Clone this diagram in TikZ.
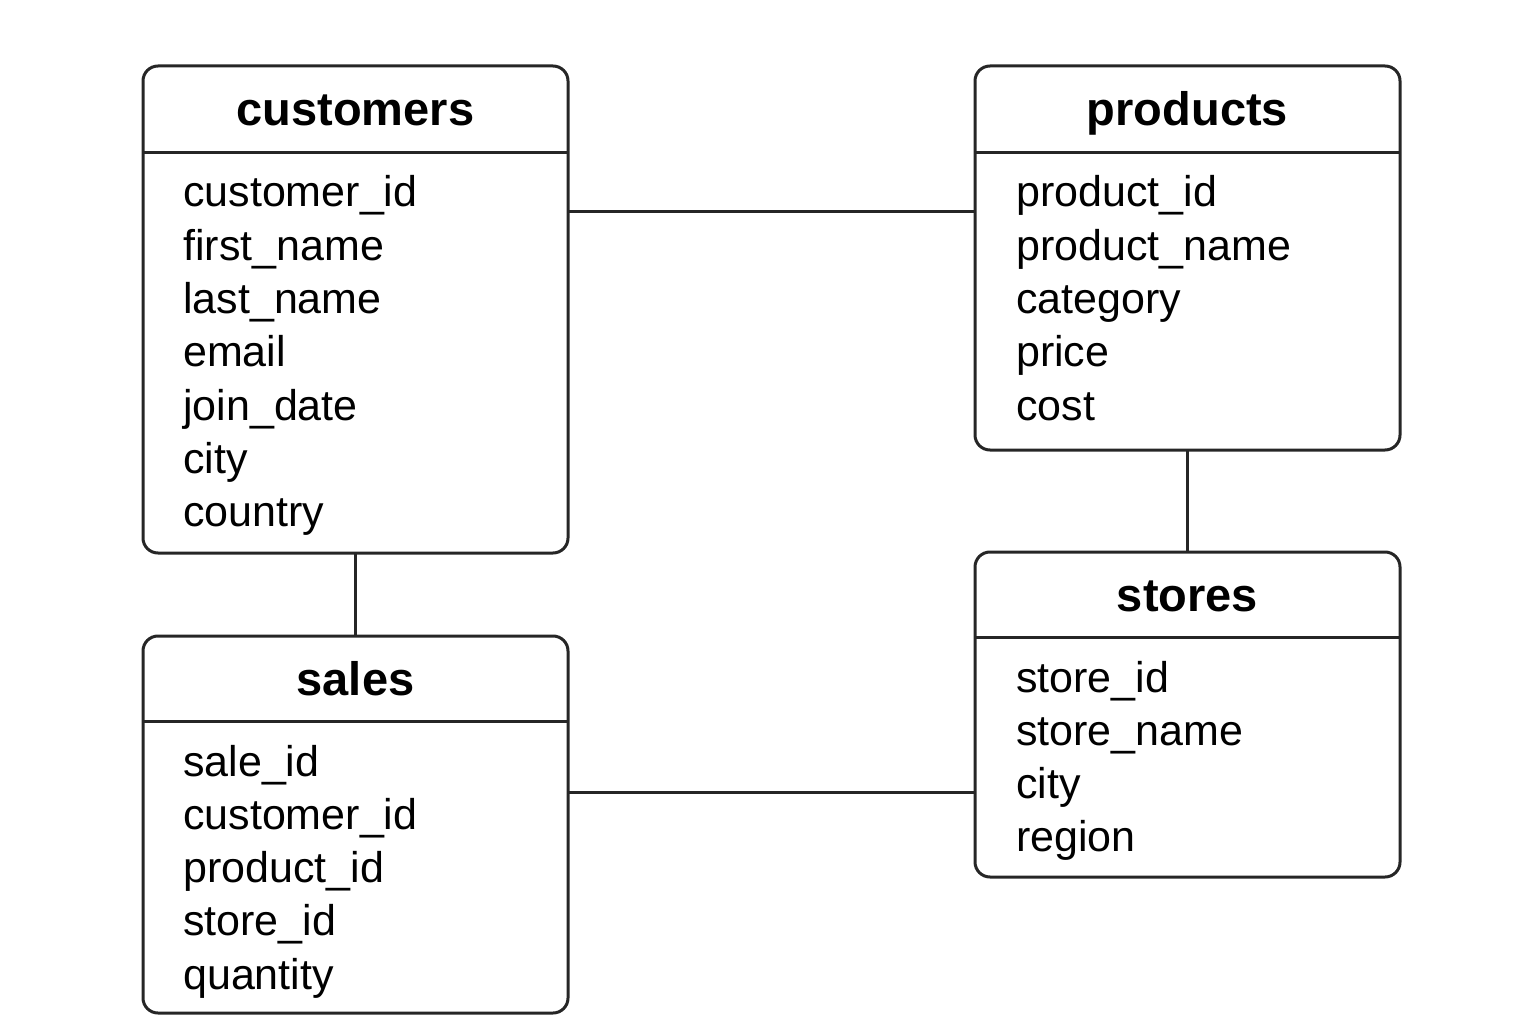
\documentclass[tikz,border=0pt]{standalone}
\usepackage{fontspec}
\setmainfont{Liberation Sans}
\begin{document}
\begin{tikzpicture}[x=1pt,y=-1pt,
  tbl/.style={draw=black!85,line width=3pt,rounded corners=15pt,outer sep=0pt,inner sep=0pt,fill=none},
  div/.style={draw=black!85,line width=3pt},
  conn/.style={draw=black!85,line width=3pt},
  ttl/.style={anchor=base,font=\fontsize{47}{47}\selectfont\bfseries,inner sep=0pt},
  fld/.style={anchor=base west,font=\fontsize{43}{43}\selectfont,inner sep=0pt}]
\useasboundingbox (0,0) rectangle (1536,1024);
% customers
\node[tbl,minimum width=425pt,minimum height=487pt] (cust) at (355.5,309.5) {};
\draw[div] (cust.west |- 0,153) -- (cust.east |- 0,153);
\node[ttl] (custT) at (355.5,126) {customers};
\foreach \t [count=\i from 0] in {customer\_id,first\_name,last\_name,email,join\_date,city,country}
  \node[fld] (cust\i) at (183,207+53.3*\i) {\t};
% products
\node[tbl,minimum width=425pt,minimum height=384pt] (prod) at (1187.5,258) {};
\draw[div] (prod.west |- 0,153) -- (prod.east |- 0,153);
\node[ttl] (prodT) at (1187.5,126) {products};
\foreach \t [count=\i from 0] in {product\_id,product\_name,category,price,cost}
  \node[fld] (prod\i) at (1016,207+53.3*\i) {\t};
% stores
\node[tbl,minimum width=425pt,minimum height=325pt] (stor) at (1187.5,714.5) {};
\draw[div] (stor.west |- 0,637) -- (stor.east |- 0,637);
\node[ttl] (storT) at (1187.5,611) {stores};
\foreach \t [count=\i from 0] in {store\_id,store\_name,city,region}
  \node[fld] (stor\i) at (1016,692+53.3*\i) {\t};
% sales
\node[tbl,minimum width=425pt,minimum height=377pt] (sale) at (355.5,824.5) {};
\draw[div] (sale.west |- 0,721) -- (sale.east |- 0,721);
\node[ttl] (saleT) at (355.5,695) {sales};
\foreach \t [count=\i from 0] in {sale\_id,customer\_id,product\_id,store\_id,quantity}
  \node[fld] (sale\i) at (183,776+53.3*\i) {\t};
% connectors
\coordinate (r1) at (0,212);
\coordinate (r2) at (0,792);
\draw[conn] (cust.east |- r1) -- (prod.west |- r1);
\draw[conn] (sale.east |- r2) -- (stor.west |- r2);
\draw[conn] (cust.south) -- (sale.north);
\draw[conn] (prod.south) -- (stor.north);
\end{tikzpicture}
\end{document}
